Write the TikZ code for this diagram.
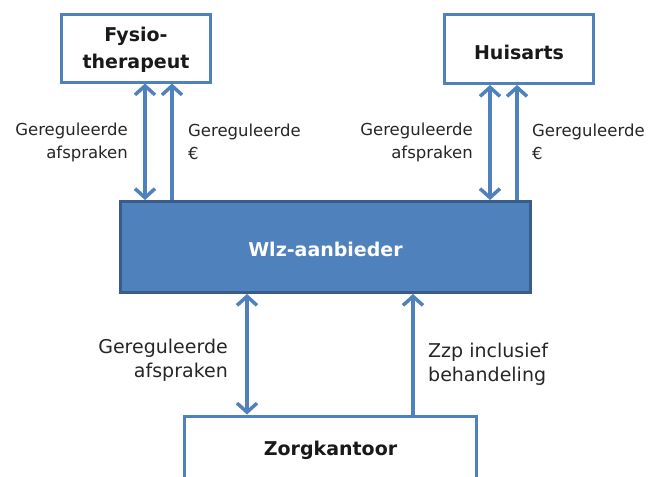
\documentclass[tikz,border=0pt]{standalone}
\usepackage{fontspec}
\setmainfont{DejaVu Sans}
\usetikzlibrary{arrows.meta}
\definecolor{ablue}{HTML}{4F81BD}
\definecolor{dblue}{HTML}{385D8A}
\begin{document}
\begin{tikzpicture}[x=1pt,y=-1pt,
  box/.style={draw=ablue, line width=3pt, fill=white, inner sep=0pt},
  boxtext/.style={font=\fontsize{19}{27}\selectfont\bfseries, align=center, text=black!90},
  lbl/.style={font=\fontsize{16.5}{23}\selectfont, text=black!85, inner sep=0pt},
  lblb/.style={font=\fontsize{19}{24}\selectfont, text=black!85, inner sep=0pt},
  arr/.style={draw=ablue, line width=3.5pt, -{Straight Barb[length=9pt,width=20pt,line width=3.5pt]}},
  dbl/.style={draw=ablue, line width=3.5pt, {Straight Barb[length=9pt,width=20pt,line width=3.5pt]}-{Straight Barb[length=9pt,width=20pt,line width=3.5pt]}}
]
\useasboundingbox (0,0) rectangle (649,477);
\node[box, minimum width=149pt, minimum height=68pt] (fysio) at (136,48) {};
\node[boxtext] (fysiot) at (136,50) {Fysio-\\therapeut};
\node[box, minimum width=149pt, minimum height=69pt] (huis) at (519,49) {};
\node[boxtext] (huist) at (519,52) {Huisarts};
\node[draw=dblue, fill=ablue, line width=3pt, inner sep=0pt, minimum width=410pt, minimum height=91pt] (wlz) at (325.5,247) {};
\node[boxtext, text=white] (wlzt) at (325.5,249) {Wlz-aanbieder};
\node[box, anchor=north, minimum width=292pt, minimum height=100pt] (zorg) at (330.5,414.5) {};
\node[boxtext] (zorgt) at (330.5,450) {Zorgkantoor};

\draw[dbl] ([xshift=9pt]fysio.south) -- ([xshift=-180.5pt]wlz.north);
\draw[arr] ([xshift=-153.5pt]wlz.north) -- ([xshift=36pt]fysio.south);
\draw[dbl] ([xshift=-29pt]huis.south) -- ([xshift=164.5pt]wlz.north);
\draw[arr] ([xshift=191.5pt]wlz.north) -- ([xshift=-2pt]huis.south);
\draw[dbl] ([xshift=-78.5pt]wlz.south) -- ([xshift=-83.5pt]zorg.north);
\draw[arr] ([xshift=82.5pt]zorg.north) -- ([xshift=87.5pt]wlz.south);

\node[lbl, align=right, anchor=east] (l1) at (128,142) {Gereguleerde\\afspraken};
\node[lbl, align=left, anchor=west] (l2) at (188,142) {Gereguleerde\\€};
\node[lbl, align=right, anchor=east] (l3) at (473,142) {Gereguleerde\\afspraken};
\node[lbl, align=left, anchor=west] (l4) at (532,142) {Gereguleerde\\€};
\node[lblb, align=right, anchor=east] (l5) at (228,360) {Gereguleerde\\afspraken};
\node[lblb, align=left, anchor=west] (l6) at (428,364) {Zzp inclusief\\behandeling};
\end{tikzpicture}
\end{document}
